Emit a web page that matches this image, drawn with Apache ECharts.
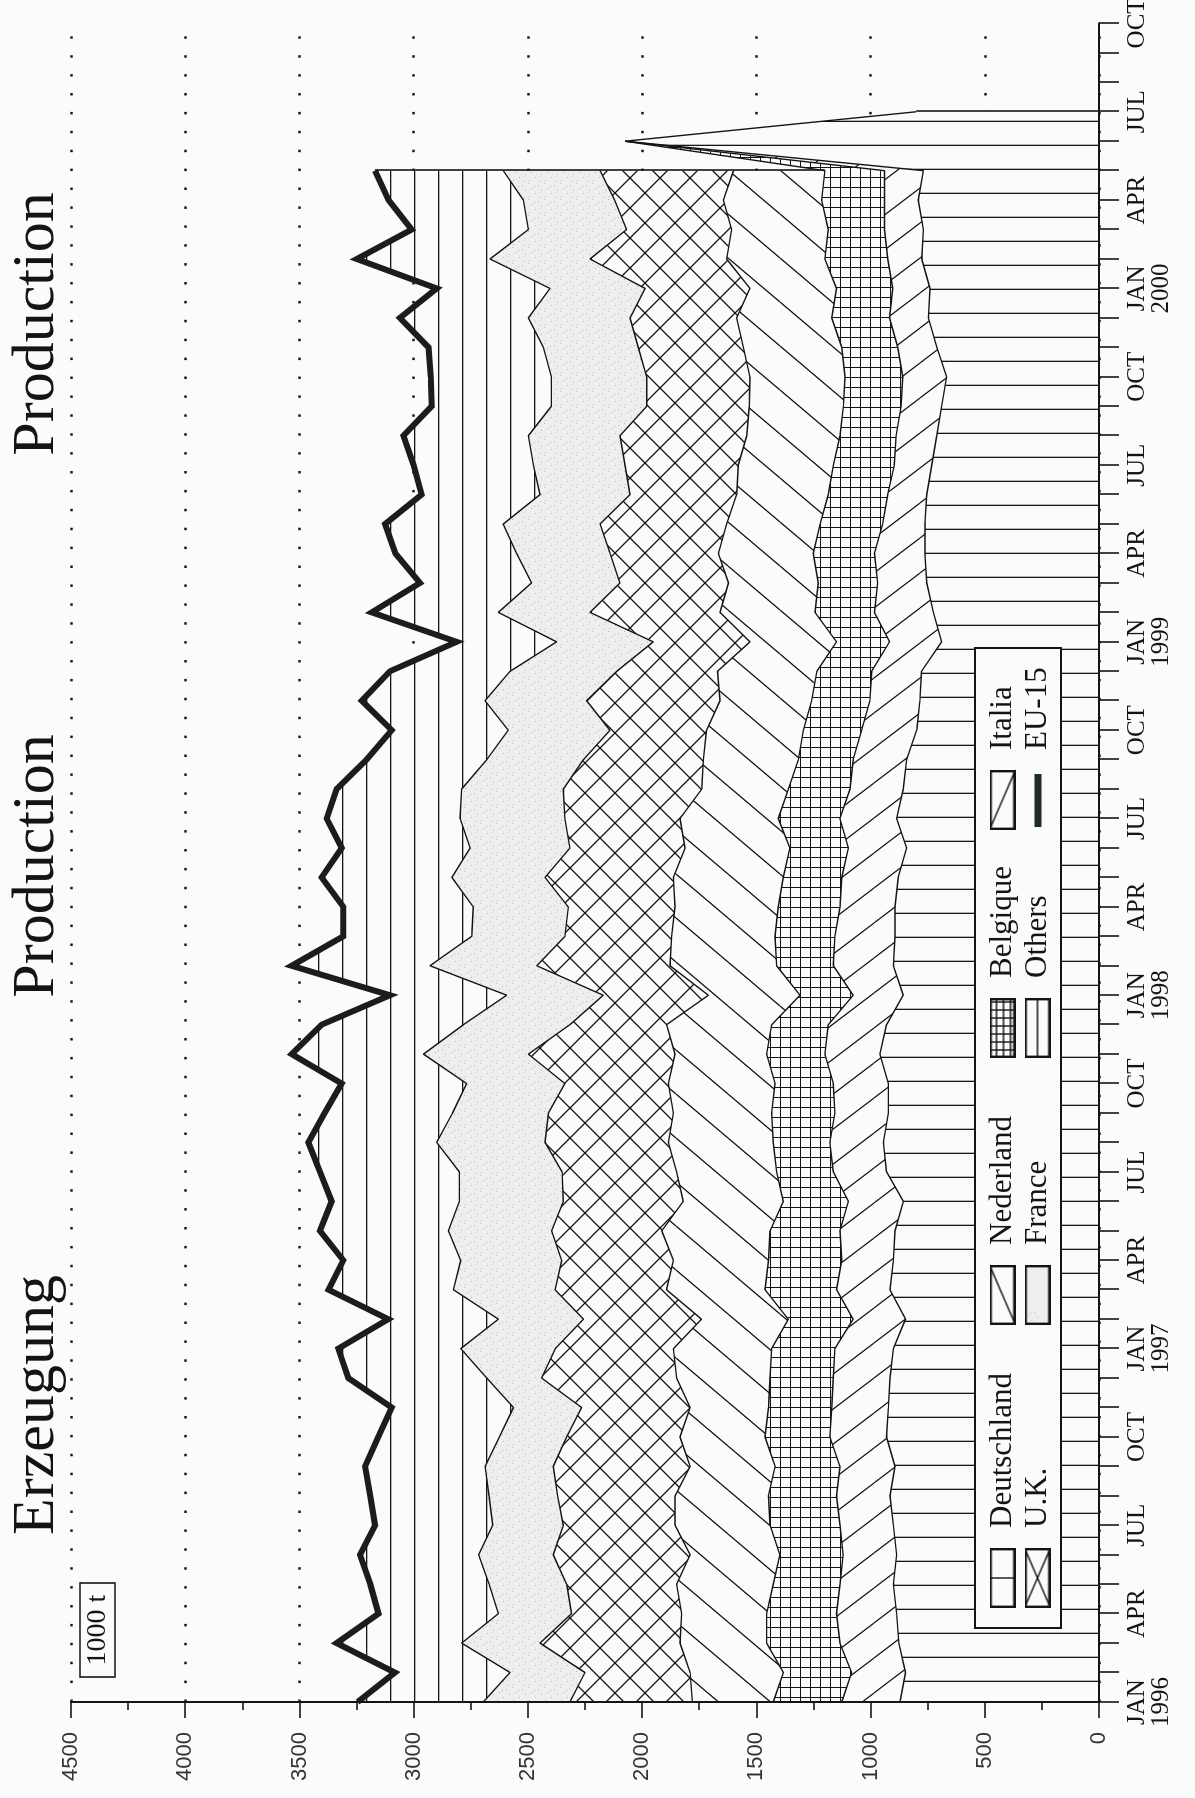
<!DOCTYPE html>
<html>
<head>
<meta charset="utf-8">
<title>Erzeugung / Production</title>
<script src="https://cdn.jsdelivr.net/npm/echarts@6/dist/echarts.min.js"></script>
<style>
  html, body { margin: 0; padding: 0; background: #fbfbfb; }
  #page { position: relative; width: 1195px; height: 1798px; overflow: hidden; }
  /* the chart is laid out lying down, then turned a quarter turn like the printed page */
  #main { position: absolute; left: 0; top: 0; width: 1798px; height: 1195px;
          transform-origin: 0 0; transform: translateY(1798px) rotate(-90deg); }
</style>
</head>
<body>
<div id="page"><div id="main"></div></div>
<script>
(function () {
  'use strict';
  var echarts = window.echarts;

  // months JAN 1996 .. OCT 2000
  var monthNames = ['JAN', 'FEB', 'MAR', 'APR', 'MAY', 'JUN', 'JUL', 'AUG', 'SEP', 'OCT', 'NOV', 'DEC'];
  var labelMonths = ['JAN', 'APR', 'JUL', 'OCT'];
  var months = [];
  for (var y = 1996; y <= 2000; y++) {
    for (var k = 0; k < 12; k++) {
      if (y === 2000 && k > 9) { break; }
      months.push(monthNames[k] + ' ' + y);
    }
  }

  // 1000 t (stacked in this order)
  var deutschland = [871, 847, 876, 886, 900, 886, 900, 915, 893, 930, 922, 915, 900, 847, 915, 900, 893, 856,
    930, 944, 922, 922, 959, 930, 857, 900, 893, 893, 879, 842, 886, 857, 842, 798, 784, 777,
    689, 725, 754, 762, 762, 754, 732, 710, 689, 667, 710, 747, 740, 776, 769, 791, 769, 2075, 800];
  var italia = [255, 236, 258, 263, 234, 234, 234, 234, 241, 248, 248, 248, 256, 229, 234, 226, 241, 241,
    233, 234, 234, 241, 241, 255, 219, 263, 263, 241, 247, 255, 248, 233, 234, 241, 219, 218,
    228, 258, 215, 221, 185, 171, 164, 178, 177, 192, 171, 170, 163, 149, 170, 148, 170, 0];
  var belgique = [300, 299, 321, 306, 292, 277, 306, 298, 284, 284, 277, 277, 277, 284, 313, 321, 306, 285,
    248, 248, 277, 255, 255, 248, 233, 248, 262, 270, 256, 256, 270, 270, 240, 255, 255, 240,
    232, 260, 260, 268, 274, 260, 267, 246, 253, 253, 245, 253, 246, 275, 246, 275, 261, 0];
  var nederland = [354, 408, 379, 372, 423, 393, 416, 409, 372, 372, 343, 409, 430, 380, 431, 416, 474, 438,
    438, 459, 430, 467, 401, 460, 401, 467, 453, 452, 481, 459, 430, 379, 416, 424, 401, 435,
    379, 416, 393, 415, 409, 401, 416, 408, 412, 416, 431, 416, 379, 430, 423, 430, 400];
  var uk = [536, 460, 613, 482, 481, 599, 489, 514, 599, 496, 475, 591, 517, 517, 488, 489, 482, 525,
    501, 540, 547, 453, 642, 423, 460, 583, 467, 467, 562, 504, 504, 606, 525, 423, 584, 441,
    423, 569, 475, 474, 554, 467, 496, 555, 449, 452, 460, 467, 459, 598, 460, 476, 584];
  var france = [379, 328, 343, 320, 340, 327, 309, 300, 298, 295, 298, 240, 414, 372, 445, 442, 452, 455,
    450, 474, 420, 430, 459, 466, 423, 468, 408, 416, 408, 437, 459, 445, 423, 445, 445, 467,
    423, 402, 387, 409, 424, 394, 401, 401, 417, 417, 415, 445, 416, 438, 430, 400, 424];
  var others = [550, 504, 547, 525, 520, 519, 515, 520, 526, 530, 533, 606, 536, 482, 547, 514, 562, 559,
    610, 562, 560, 547, 577, 621, 511, 605, 562, 569, 570, 562, 584, 547, 526, 510, 539, 526,
    438, 554, 488, 531, 517, 518, 524, 547, 524, 528, 503, 562, 496, 583, 511, 590, 561];
  var eu15 = [3245, 3082, 3337, 3154, 3190, 3235, 3169, 3190, 3213, 3155, 3096, 3286, 3330, 3111, 3373, 3308, 3410, 3359,
    3410, 3461, 3390, 3315, 3534, 3403, 3104, 3534, 3308, 3308, 3403, 3315, 3381, 3337, 3206, 3096, 3227, 3104,
    2812, 3184, 2972, 3080, 3125, 2965, 3000, 3045, 2921, 2925, 2935, 3060, 2899, 3249, 3009, 3110, 3169];

  var titles = ['Erzeugung', 'Production', 'Production'];

  var INK = '#141414';
  var PAPER = '#fbfbfb';

  // hatch tiles (drawn in the lying-down frame)
  function tile(w, h, draw) {
    var c = document.createElement('canvas');
    c.width = w;
    c.height = h;
    var g = c.getContext('2d');
    g.fillStyle = PAPER;
    g.fillRect(0, 0, w, h);
    g.strokeStyle = INK;
    g.fillStyle = INK;
    g.lineWidth = 1.3;
    draw(g, w, h);
    return { image: c, repeat: 'repeat' };
  }

  function diag(g, w, h, dir) {
    g.beginPath();
    for (var i = -1; i <= 1; i++) {
      if (dir > 0) {
        g.moveTo(i * w, 0);
        g.lineTo(i * w + w, h);
      } else {
        g.moveTo(i * w, h);
        g.lineTo(i * w + w, 0);
      }
    }
    g.stroke();
  }

  var speck = [[1, 1], [9, 3], [4, 7], [12, 10], [7, 13], [0, 12], [14, 0], [11, 6]];

  function dots(g, w, h) {
    g.fillStyle = '#eeeeee';
    g.fillRect(0, 0, w, h);
    g.fillStyle = '#b8b8b8';
    speck.forEach(function (p) { g.fillRect(p[0], p[1], 1, 1); });
  }

  var fills = {
    deutschland: tile(24, 24, function (g) { g.fillRect(20, 0, 1.3, 24); }),
    italia: tile(35, 46, function (g, w, h) { diag(g, w, h, 1); }),
    belgique: tile(10, 10, function (g) { g.fillRect(0, 0, 10, 1); g.fillRect(0, 0, 1, 10); }),
    nederland: tile(44, 52, function (g, w, h) { diag(g, w, h, -1); }),
    uk: tile(30, 30, function (g, w, h) { diag(g, w, h, 1); diag(g, w, h, -1); }),
    france: tile(16, 16, dots),
    others: tile(24, 24, function (g) { g.fillRect(0, 6, 24, 1.3); })
  };

  // legend swatches: a 60x26 box, the rest left clear as the gap before the text
  function swatch(kind) {
    var c = document.createElement('canvas');
    c.width = 75;
    c.height = 26;
    var g = c.getContext('2d');
    if (kind === 'bar') {
      g.fillStyle = '#1d2c24';
      g.fillRect(3, 10, 53, 7);
      return 'image://' + c.toDataURL();
    }
    if (kind === 'dots') {
      dots(g, 60, 26);
    } else {
      g.fillStyle = PAPER;
      g.fillRect(0, 0, 60, 26);
    }
    g.strokeStyle = INK;
    g.lineWidth = 1.4;
    g.beginPath();
    if (kind === 'vline') { g.moveTo(30, 0); g.lineTo(30, 26); }
    if (kind === 'hline') { g.moveTo(0, 13); g.lineTo(60, 13); }
    if (kind === 'slash') { g.moveTo(0, 26); g.lineTo(60, 0); }
    if (kind === 'back') { g.moveTo(0, 0); g.lineTo(60, 26); }
    if (kind === 'cross') { g.moveTo(0, 0); g.lineTo(60, 26); g.moveTo(0, 26); g.lineTo(60, 0); }
    if (kind === 'grid') {
      for (var x = 8; x < 60; x += 8) { g.moveTo(x, 0); g.lineTo(x, 26); }
      for (var yy = 7; yy < 26; yy += 7) { g.moveTo(0, yy); g.lineTo(60, yy); }
    }
    g.stroke();
    g.lineWidth = 2.4;
    g.strokeRect(1.2, 1.2, 57.6, 23.6);
    return 'image://' + c.toDataURL();
  }

  var legendItems = [
    { name: 'Deutschland', kind: 'vline', x: 190, y: 987 },
    { name: 'Nederland', kind: 'slash', x: 473, y: 987 },
    { name: 'Belgique', kind: 'grid', x: 740, y: 987 },
    { name: 'Italia', kind: 'back', x: 968, y: 987 },
    { name: 'U.K.', kind: 'cross', x: 190, y: 1022 },
    { name: 'France', kind: 'dots', x: 473, y: 1022 },
    { name: 'Others', kind: 'hline', x: 740, y: 1022 },
    { name: 'EU-15', kind: 'bar', x: 968, y: 1022 }
  ];

  var legends = legendItems.map(function (it) {
    return {
      show: true,
      left: it.x,
      top: it.y,
      padding: 0,
      itemGap: 0,
      itemWidth: 75,
      itemHeight: 26,
      selectedMode: false,
      z: 30,
      data: [{ name: it.name, icon: swatch(it.kind) }],
      textStyle: { fontFamily: 'Liberation Serif', fontSize: 31, color: INK, lineHeight: 26 }
    };
  });

  function band(name, data, fill) {
    return {
      name: name,
      type: 'line',
      stack: 'prod',
      data: data,
      symbol: 'none',
      silent: true,
      emphasis: { disabled: true },
      lineStyle: { color: INK, width: 1.4 },
      areaStyle: { color: fill, opacity: 1 }
    };
  }

  var last = eu15.length - 1;
  var midTop = deutschland[last] + italia[last] + belgique[last];

  var series = [
    band('Deutschland', deutschland, fills.deutschland),
    band('Italia', italia, fills.italia),
    band('Belgique', belgique, fills.belgique),
    band('Nederland', nederland, fills.nederland),
    band('U.K.', uk, fills.uk),
    band('France', france, fills.france),
    band('Others', others, fills.others),
    {
      name: 'EU-15',
      type: 'line',
      data: eu15,
      symbol: 'none',
      silent: true,
      z: 3,
      emphasis: { disabled: true },
      lineStyle: { color: '#1c1c1c', width: 6, join: 'miter' },
      markLine: {
        silent: true,
        symbol: 'none',
        label: { show: false },
        lineStyle: { color: INK, width: 1.6, type: 'solid' },
        data: [
          [{ coord: [months[last], midTop] }, { coord: [months[last], eu15[last]] }],
          [{ coord: [months[54], 0] }, { coord: [months[54], deutschland[54]] }]
        ]
      }
    }
  ];
  series[6].lineStyle = { width: 0, opacity: 0 };

  var titleX = [393, 932, 1474];
  var graphics = titles.map(function (t, i) {
    return {
      type: 'text',
      x: titleX[i],
      y: 37,
      style: { text: t, fontFamily: 'Liberation Serif', fontSize: 60, fill: INK, align: 'center', verticalAlign: 'middle' }
    };
  });
  graphics.push({
    type: 'rect', z: 20,
    shape: { x: 121, y: 80, width: 94, height: 35 },
    style: { fill: PAPER, stroke: INK, lineWidth: 1.6 }
  });
  graphics.push({
    type: 'text', z: 21, x: 168, y: 98,
    style: { text: '1000 t', fontFamily: 'Liberation Serif', fontSize: 28, fill: INK, align: 'center', verticalAlign: 'middle' }
  });
  graphics.push({
    type: 'rect', z: 20,
    shape: { x: 170, y: 975, width: 980, height: 86 },
    style: { fill: PAPER, stroke: INK, lineWidth: 2 }
  });

  var myChart = echarts.init(document.getElementById('main'), null, { renderer: 'canvas' });

  var option = {
    backgroundColor: PAPER,
    animation: false,
    grid: { left: 96, right: 23.4, top: 71, bottom: 96, outerBoundsMode: 'none' },
    legend: legends,
    graphic: graphics,
    xAxis: {
      type: 'category',
      data: months,
      boundaryGap: false,
      z: 10,
      axisLine: { show: true, lineStyle: { color: INK, width: 2 } },
      axisTick: { show: true, interval: 0, length: 20, lineStyle: { color: INK, width: 1.6 } },
      axisLabel: {
        show: true,
        interval: 0,
        margin: 26,
        color: INK,
        fontFamily: 'Liberation Serif',
        fontSize: 25,
        lineHeight: 24,
        formatter: function (value) {
          var parts = value.split(' ');
          if (labelMonths.indexOf(parts[0]) < 0) { return ''; }
          return parts[0] === 'JAN' ? parts[0] + '\n' + parts[1] : parts[0];
        }
      },
      splitLine: { show: false }
    },
    yAxis: [
      {
        type: 'value', min: 0, max: 4500, interval: 500, position: 'left',
        axisLine: { show: false }, axisTick: { show: false }, axisLabel: { show: false },
        splitLine: { show: true, lineStyle: { color: '#1a1a1a', width: 2.5, type: [2.5, 16.4] } }
      },
      {
        type: 'value', min: 0, max: 4500, interval: 500, position: 'left', z: 10,
        axisLine: { show: true, lineStyle: { color: INK, width: 2 } },
        axisTick: { show: true, length: 16, lineStyle: { color: INK, width: 1.6 } },
        minorTick: { show: true, splitNumber: 2, length: 8, lineStyle: { color: INK, width: 1.6 } },
        axisLabel: {
          margin: 30, color: '#333', fontFamily: 'Liberation Sans', fontSize: 22,
          formatter: function (v) { return String(v); }
        },
        splitLine: { show: false }
      }
    ],
    series: series
  };

  myChart.setOption(option);
}());
</script>
</body>
</html>
